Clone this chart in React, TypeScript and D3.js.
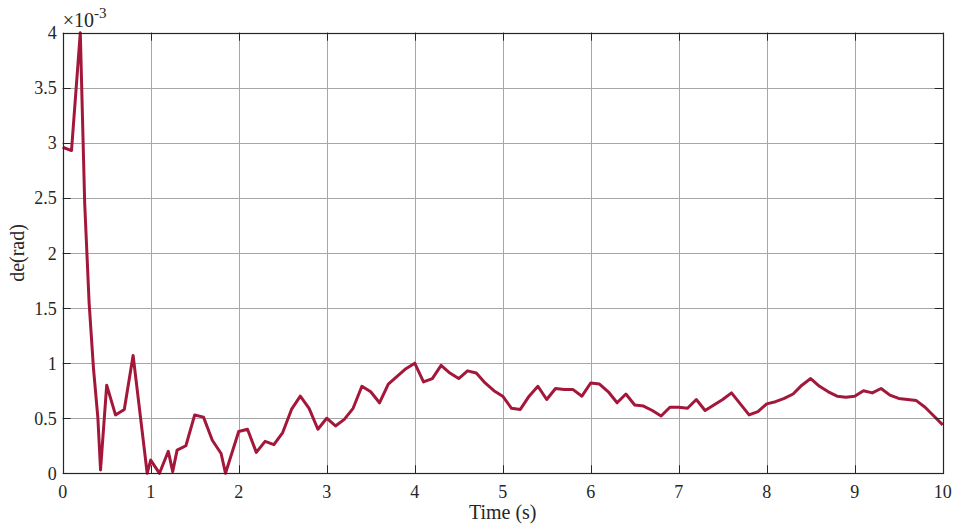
import React, { useEffect, useRef } from "react";
import * as d3 from "d3";

// sample times (s) and de values (x1e-3 rad)
const times = [
  0, 0.1, 0.2, 0.25, 0.3, 0.35, 0.4, 0.43, 0.5, 0.6, 0.7, 0.8, 0.96, 1.0, 1.1,
  1.2, 1.25, 1.3, 1.4, 1.5, 1.6, 1.7, 1.8, 1.85, 2.0, 2.1, 2.2, 2.3, 2.4, 2.5,
  2.6, 2.7, 2.8, 2.9, 3.0, 3.1, 3.2, 3.3, 3.4, 3.5, 3.6, 3.7, 3.8, 3.9, 4.0,
  4.1, 4.2, 4.3, 4.4, 4.5, 4.6, 4.7, 4.8, 4.9, 5.0, 5.1, 5.2, 5.3, 5.4, 5.5,
  5.6, 5.7, 5.8, 5.9, 6.0, 6.1, 6.2, 6.3, 6.4, 6.5, 6.6, 6.7, 6.8, 6.9, 7.0,
  7.1, 7.2, 7.3, 7.4, 7.5, 7.6, 7.7, 7.8, 7.9, 8.0, 8.1, 8.2, 8.3, 8.4, 8.5,
  8.6, 8.7, 8.8, 8.9, 9.0, 9.1, 9.2, 9.3, 9.4, 9.5, 9.6, 9.7, 9.8, 9.9, 10.0,
];
const deValues = [
  2.96, 2.93, 4.0, 2.45, 1.55, 0.95, 0.5, 0.03, 0.8, 0.53, 0.58, 1.07, 0.0,
  0.12, 0.0, 0.2, 0.015, 0.21, 0.25, 0.53, 0.51, 0.3, 0.18, 0.0, 0.38, 0.4,
  0.19, 0.29, 0.26, 0.37, 0.58, 0.7, 0.59, 0.4, 0.5, 0.43, 0.49, 0.59, 0.79,
  0.74, 0.64, 0.81, 0.88, 0.95, 1.0, 0.83, 0.86, 0.98, 0.91, 0.86, 0.93, 0.91,
  0.82, 0.75, 0.7, 0.59, 0.58, 0.7, 0.79, 0.67, 0.77, 0.76, 0.76, 0.7, 0.82,
  0.81, 0.74, 0.64, 0.72, 0.62, 0.61, 0.57, 0.52, 0.6, 0.6, 0.59, 0.67, 0.57,
  0.62, 0.67, 0.73, 0.63, 0.53, 0.56, 0.63, 0.65, 0.68, 0.72, 0.8, 0.86, 0.79,
  0.74, 0.7, 0.69, 0.7, 0.75, 0.73, 0.77, 0.71, 0.68, 0.67, 0.66, 0.6, 0.52,
  0.44,
];
const xTicks = [0, 1, 2, 3, 4, 5, 6, 7, 8, 9, 10];
const yTicks = [0, 0.5, 1, 1.5, 2, 2.5, 3, 3.5, 4];

const width = 955;
const height = 526;
const margin = { top: 32.7, right: 12.3, bottom: 52.7, left: 62.7 };
const font = "'Liberation Serif', 'Times New Roman', serif";

const App = () => {
  const svgRef = useRef<SVGSVGElement>(null);

  useEffect(() => {
    const svg = d3.select(svgRef.current);
    svg.selectAll("*").remove();

    const x = d3
      .scaleLinear()
      .domain([0, 10])
      .range([margin.left, width - margin.right]);
    const y = d3
      .scaleLinear()
      .domain([0, 4])
      .range([height - margin.bottom, margin.top]);

    const [x0, x1] = x.range();
    const [y0, y1] = y.range();

    svg.append("rect").attr("x", x0).attr("y", y1)
      .attr("width", x1 - x0).attr("height", y0 - y1).attr("fill", "#fff");

    // grid
    const grid = svg.append("g").attr("stroke", "#a6a6a6").attr("stroke-width", 1);
    grid.selectAll("line.vx").data(xTicks.slice(1, -1)).join("line")
      .attr("class", "vx")
      .attr("x1", (d) => Math.round(x(d)) + 0.5).attr("x2", (d) => Math.round(x(d)) + 0.5)
      .attr("y1", y1).attr("y2", y0);
    grid.selectAll("line.hy").data(yTicks.slice(1, -1)).join("line")
      .attr("class", "hy")
      .attr("y1", (d) => Math.round(y(d)) + 0.5).attr("y2", (d) => Math.round(y(d)) + 0.5)
      .attr("x1", x0).attr("x2", x1);

    // data line
    const pts = times.map((t, i) => [t, deValues[i]] as [number, number]);
    const line = d3.line<[number, number]>().x((d) => x(d[0])).y((d) => y(d[1]));
    svg.append("path").datum(pts)
      .attr("d", line)
      .attr("fill", "none")
      .attr("stroke", "#a3173a")
      .attr("stroke-width", 3)
      .attr("stroke-linejoin", "round");

    // ticks on all sides, pointing inward
    const tl = 8;
    const ticks = svg.append("g").attr("stroke", "#262626").attr("stroke-width", 1);
    xTicks.forEach((t) => {
      const px = Math.round(x(t)) + 0.5;
      ticks.append("line").attr("x1", px).attr("x2", px).attr("y1", y0).attr("y2", y0 - tl);
      ticks.append("line").attr("x1", px).attr("x2", px).attr("y1", y1).attr("y2", y1 + tl);
    });
    yTicks.forEach((t) => {
      const py = Math.round(y(t)) + 0.5;
      ticks.append("line").attr("y1", py).attr("y2", py).attr("x1", x0).attr("x2", x0 + tl);
      ticks.append("line").attr("y1", py).attr("y2", py).attr("x1", x1).attr("x2", x1 - tl);
    });

    // box
    svg.append("rect")
      .attr("x", Math.round(x0) + 0.5).attr("y", Math.round(y1) + 0.5)
      .attr("width", Math.round(x1) - Math.round(x0)).attr("height", Math.round(y0) - Math.round(y1))
      .attr("fill", "none").attr("stroke", "#262626").attr("stroke-width", 1.2);

    // tick labels
    const labels = svg.append("g").attr("font-family", font).attr("font-size", 18).attr("fill", "#262626");
    labels.selectAll("text.xt").data(xTicks).join("text")
      .attr("class", "xt")
      .attr("x", (d) => x(d)).attr("y", y0 + 25)
      .attr("text-anchor", "middle")
      .text((d) => d3.format("~g")(d));
    labels.selectAll("text.yt").data(yTicks).join("text")
      .attr("class", "yt")
      .attr("x", x0 - 6).attr("y", (d) => y(d) + 6.5)
      .attr("text-anchor", "end")
      .text((d) => d3.format("~g")(d));

    // exponent
    const expo = svg.append("text").attr("font-family", font).attr("fill", "#262626")
      .attr("x", x0).attr("y", 27).attr("font-size", 20);
    expo.append("tspan").text("\u00d710");
    expo.append("tspan").attr("font-size", 15).attr("dy", -9).text("-3");

    // axis titles
    svg.append("text")
      .attr("x", (x0 + x1) / 2).attr("y", 519)
      .attr("text-anchor", "middle")
      .attr("font-family", font).attr("font-size", 20).attr("fill", "#262626")
      .text("Time (s)");
    svg.append("text")
      .attr("transform", `translate(24, ${(y0 + y1) / 2}) rotate(-90)`)
      .attr("text-anchor", "middle")
      .attr("font-family", font).attr("font-size", 20).attr("fill", "#262626")
      .text("de(rad)");
  }, []);

  return (
    <svg
      ref={svgRef}
      width={width}
      height={height}
      style={{ position: "absolute", left: 0, top: 0, background: "#fff" }}
    />
  );
};

export default App;
